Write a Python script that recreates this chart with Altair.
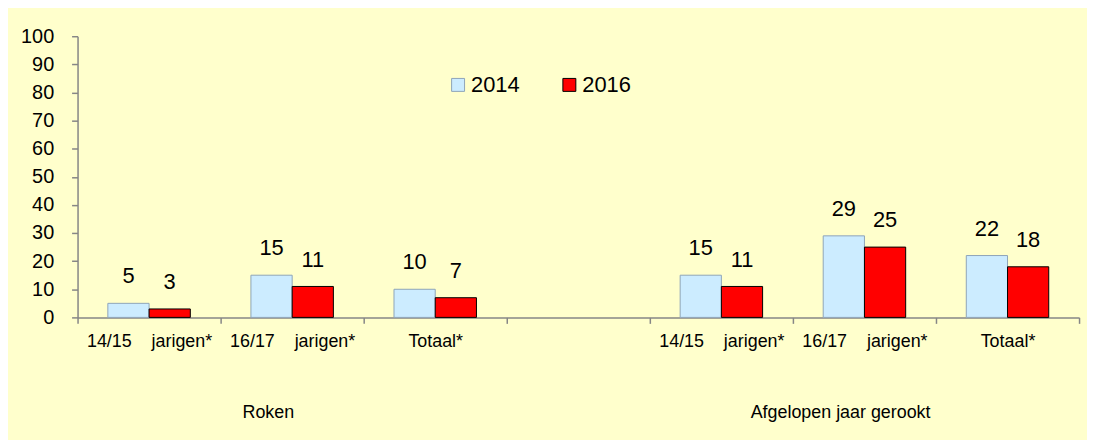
import altair as alt
import pandas as pd

NB = "\u00a0"
slot_keys = ["r1", "r2", "r3", "gap", "a1", "a2", "a3"]
slot_labels = ["14/15" + NB * 4 + "jarigen*", "16/17" + NB * 4 + "jarigen*", "Totaal*", "",
               "14/15" + NB * 4 + "jarigen*", "16/17" + NB * 4 + "jarigen*", "Totaal*"]
bar_keys = ["r1", "r2", "r3", "a1", "a2", "a3"]
values_2014 = [5, 15, 10, 15, 29, 22]
values_2016 = [3, 11, 7, 11, 25, 18]
years = ["2014", "2016"]
group_names = ["Roken", "Afgelopen jaar gerookt"]
group_center_keys = ["r2", "a2"]
y_ticks = list(range(0, 101, 10))

FONT = "Liberation Sans"

rows = []
for k, a, b in zip(bar_keys, values_2014, values_2016):
    rows.append({"key": k, "year": "2014", "value": a})
    rows.append({"key": k, "year": "2016", "value": b})
df = pd.DataFrame(rows)
groups = pd.DataFrame({"key": group_center_keys, "name": group_names})

keys_js = "[" + ",".join(f"'{k}'" for k in slot_keys) + "]"
labels_js = "[" + ",".join(f"'{l}'" for l in slot_labels) + "]"
label_expr = f"{labels_js}[indexof({keys_js}, datum.value)]"

x_enc = alt.X(
    "key:N",
    scale=alt.Scale(domain=slot_keys, paddingInner=0, paddingOuter=0),
    axis=alt.Axis(
        title=None, labelExpr=label_expr, labelAngle=0, tickBand="extent",
        tickSize=6, domainColor="#868686", tickColor="#868686",
        labelFont=FONT, labelFontSize=18, labelColor="#000000", labelPadding=9,
        domainWidth=1.5, tickWidth=1.5,
    ),
)
xoff = alt.XOffset("year:N", scale=alt.Scale(domain=years, paddingOuter=0.735, paddingInner=0))
y_enc = alt.Y(
    "value:Q",
    scale=alt.Scale(domain=[0, 100], nice=False),
    axis=alt.Axis(
        title=None, values=y_ticks, grid=False, tickSize=6,
        domainColor="#868686", tickColor="#868686", labelFont=FONT,
        labelFontSize=20, labelColor="#000000", labelPadding=18,
        domainWidth=1.5, tickWidth=1.5,
    ),
)

leg = alt.Legend(
    title=None, orient="none", legendX=372, legendY=38, direction="horizontal",
    symbolType="square", symbolSize=170, symbolStrokeWidth=1,
    labelFont=FONT, labelFontSize=22, labelColor="#000000", labelOffset=2,
    columnPadding=39, padding=0,
)

bars = alt.Chart(df).mark_bar(strokeWidth=1).encode(
    x=x_enc,
    xOffset=xoff,
    y=y_enc,
    color=alt.Color("year:N", scale=alt.Scale(domain=years, range=["#CCECFF", "#FF0000"]), legend=leg),
    stroke=alt.Stroke("year:N", scale=alt.Scale(domain=years, range=["#8EA4B8", "#000000"]), legend=leg),
)

labels = alt.Chart(df).mark_text(
    baseline="bottom", dy=-15, fontSize=22, font=FONT, color="#000000"
).encode(x=x_enc, xOffset=xoff, y=y_enc, text="value:Q")

group_text = alt.Chart(groups).mark_text(
    baseline="middle", dx=-24, fontSize=18, font=FONT, color="#000000"
).encode(x=x_enc, y=alt.value(379), text="name:N")

chart = alt.layer(bars, labels, group_text).properties(
    width=1008, height=283,
    background="#FFFFCC",
    padding={"left": 70, "top": 27, "right": 8, "bottom": 122},
    autosize=alt.AutoSizeParams(type="none"),
).configure_view(stroke=None)

chart.save("out.html", embed_options={"renderer": "svg", "actions": False})
